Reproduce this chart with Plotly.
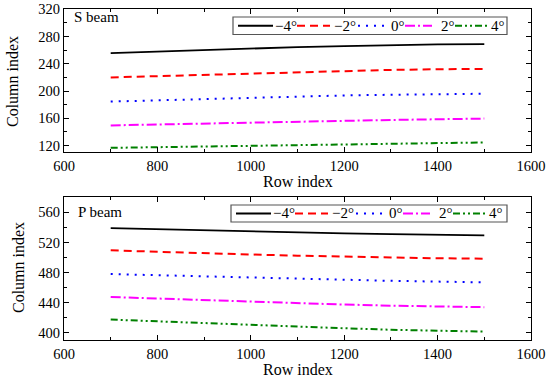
import plotly.graph_objects as go

rows = [700, 800, 900, 1000, 1100, 1200, 1300, 1400, 1500]
labels = ["\u22124\u00b0", "\u22122\u00b0", "0\u00b0", "2\u00b0", "4\u00b0"]

s_m4 = [255.5, 258, 260.5, 262.5, 264.5, 266, 267.5, 268.5, 269]
s_m2 = [220, 222, 224, 226, 228, 229.5, 231, 232, 232.5]
s_0 = [184.5, 186.5, 188.5, 190.5, 192, 193.5, 194.5, 195.5, 196]
s_2 = [149.5, 151, 152.5, 154, 155.5, 156.5, 157.5, 158.5, 159.5]
s_4 = [116.5, 117.5, 118.5, 119.5, 121, 122, 123, 124, 124.5]

p_m4 = [539, 537.5, 536, 534.5, 533.5, 532, 531, 530, 529.5]
p_m2 = [509.5, 507.5, 505.5, 504, 502.5, 501, 500, 499, 498.5]
p_0 = [478, 476.5, 474.5, 473, 471.5, 470, 469, 468, 467]
p_2 = [447.5, 445.5, 443, 441, 439, 437.5, 436, 435, 434]
p_4 = [417.5, 415, 412.5, 410, 408, 406, 404, 402.5, 401.5]

colors = ["black", "red", "blue", "magenta", "green"]
dashes = ["solid", "8px,5px", "2px,6px", "10px,3px,2px,3px", "7px,3px,2px,3px,2px,3px"]
widths = [1.8, 2, 2, 2, 2]

FONT = "Liberation Serif"
W, H = 550, 378
fig = go.Figure()

for i, ys in enumerate([s_m4, s_m2, s_0, s_2, s_4]):
    fig.add_trace(go.Scatter(x=rows, y=ys, mode="lines", name=labels[i],
                             line=dict(color=colors[i], dash=dashes[i], width=widths[i]),
                             xaxis="x", yaxis="y", legendgroup=labels[i], showlegend=False))
for i, ys in enumerate([p_m4, p_m2, p_0, p_2, p_4]):
    fig.add_trace(go.Scatter(x=rows, y=ys, mode="lines", name=labels[i],
                             line=dict(color=colors[i], dash=dashes[i], width=widths[i]),
                             xaxis="x2", yaxis="y2", legendgroup=labels[i], showlegend=False))

axcommon = dict(showline=True, linecolor="black", linewidth=1.2, mirror="ticks",
                ticks="inside", ticklen=5, tickcolor="black", showgrid=False, zeroline=False,
                automargin=False,
                tickfont=dict(family=FONT, size=14.5, color="black"))
xd = [64 / W, 531 / W]


def P(py):
    return 1 - py / H


def X(px):
    return px / W


# Hand-drawn legend boxes (layout positions in pixels)
shapes = []
annotations = []
legend_boxes = [(233, 507, 17, 34.5, 0), (231, 507, 205, 222, -2)]
sample_x0 = [238, 297, 358, 405, 455]
sample_x1 = [273, 330, 388, 432, 487]
label_x = [286, 345, 398, 448, 498]
for (bx0, bx1, by0, by1, dx) in legend_boxes:
    shapes.append(dict(type="rect", xref="paper", yref="paper",
                       x0=X(bx0), x1=X(bx1), y0=P(by1), y1=P(by0),
                       line=dict(color="#555555", width=1.2), fillcolor="white", layer="above"))
    ym = (by0 + by1) / 2
    for i in range(5):
        shapes.append(dict(type="line", xref="paper", yref="paper",
                           x0=X(sample_x0[i] + dx), x1=X(sample_x1[i] + dx), y0=P(ym), y1=P(ym),
                           line=dict(color=colors[i], dash=dashes[i], width=widths[i]), layer="above"))
        annotations.append(dict(text=labels[i], x=X(label_x[i] + dx), y=P(ym), xref="paper", yref="paper",
                                xanchor="center", yanchor="middle", showarrow=False,
                                font=dict(family=FONT, size=15, color="black")))

annotations += [
    dict(text="S beam", x=X(72), y=P(17), xref="paper", yref="paper",
         xanchor="left", yanchor="middle", showarrow=False, font=dict(family=FONT, size=15)),
    dict(text="P beam", x=X(76), y=P(212), xref="paper", yref="paper",
         xanchor="left", yanchor="middle", showarrow=False, font=dict(family=FONT, size=15)),
    dict(text="Row index", x=X(297.5), y=P(182), xref="paper", yref="paper",
         xanchor="center", yanchor="middle", showarrow=False, font=dict(family=FONT, size=16)),
    dict(text="Row index", x=X(297.5), y=P(369), xref="paper", yref="paper",
         xanchor="center", yanchor="middle", showarrow=False, font=dict(family=FONT, size=16)),
    dict(text="Column index", x=X(12), y=P(82), xref="paper", yref="paper", textangle=-90,
         xanchor="center", yanchor="middle", showarrow=False, font=dict(family=FONT, size=16)),
    dict(text="Column index", x=X(18), y=P(268), xref="paper", yref="paper", textangle=-90,
         xanchor="center", yanchor="middle", showarrow=False, font=dict(family=FONT, size=16)),
]

fig.update_layout(
    width=W, height=H,
    margin=dict(l=0, r=0, t=0, b=0, autoexpand=False),
    paper_bgcolor="white", plot_bgcolor="white",
    showlegend=False,
    font=dict(family=FONT, size=14, color="black"),
    xaxis=dict(domain=xd, anchor="y", range=[600, 1600], dtick=200,
               minor=dict(dtick=100, ticks="inside", ticklen=3, tickcolor="black"),
               **axcommon),
    yaxis=dict(domain=[P(152.3), P(9.3)], anchor="x", range=[110, 320], dtick=40,
               minor=dict(dtick=20, ticks="inside", ticklen=3, tickcolor="black"),
               **axcommon),
    xaxis2=dict(domain=xd, anchor="y2", range=[600, 1600], dtick=200,
                minor=dict(dtick=100, ticks="inside", ticklen=3, tickcolor="black"),
                **axcommon),
    yaxis2=dict(domain=[P(340.3), P(197.3)], anchor="x2", range=[390, 580], dtick=40,
                minor=dict(dtick=20, ticks="inside", ticklen=3, tickcolor="black"),
                **axcommon),
    shapes=shapes,
    annotations=annotations,
)

fig.write_html("out.html", config={"displayModeBar": False},
               post_script="document.body.style.margin='0px';")
